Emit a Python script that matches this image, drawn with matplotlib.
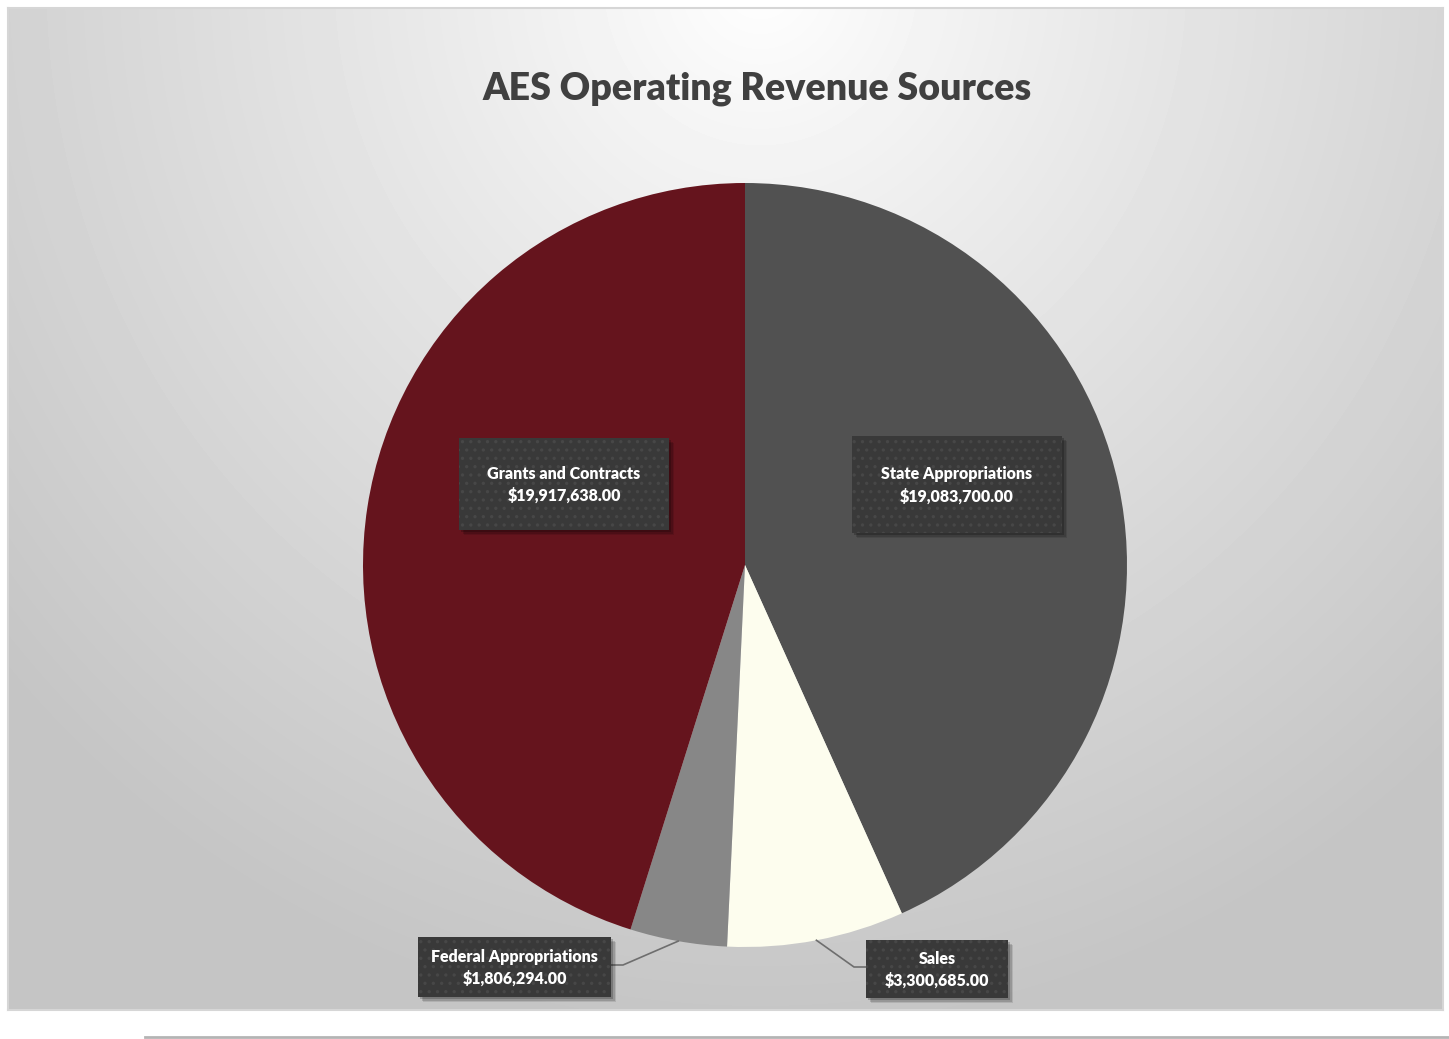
import numpy as np
import matplotlib.pyplot as plt
from matplotlib.patches import Rectangle

plt.rcParams["font.family"] = ["Lato", "DejaVu Sans"]
plt.rcParams["hatch.linewidth"] = 1.2

# Revenue sources, clockwise from 12 o'clock
sources = ["State Appropriations", "Sales", "Federal Appropriations", "Grants and Contracts"]
amounts = [19083700.00, 3300685.00, 1806294.00, 19917638.00]
colors = ["#515151", "#fdfdee", "#878787", "#65141d"]

W, H = 1449, 1039
fig = plt.figure(figsize=(W / 100, H / 100), dpi=100)
fig.patch.set_facecolor("white")


def fig_box(x0, y0, x1, y1):
    # pixel box (top-left origin) -> figure fraction [left, bottom, width, height]
    return [x0 / W, 1 - y1 / H, (x1 - x0) / W, (y1 - y0) / H]


# chart area with radial grey gradient
bg = fig.add_axes(fig_box(8, 8, 1443, 1010))
yy, xx = np.mgrid[8:1010, 8:1443]
d = np.sqrt(((xx - 760) / 1000.0) ** 2 + ((yy + 20) / 1050.0) ** 2)
shade = (255 - 58 * np.clip(d, 0, 1) ** 0.9) / 255.0
bg.imshow(shade, cmap="gray", vmin=0, vmax=1, aspect="auto", interpolation="bilinear")
bg.set_xticks([])
bg.set_yticks([])
for s in bg.spines.values():
    s.set_color("#d6d6d6")
    s.set_linewidth(1.5)

# thin rule under the chart
fig.add_artist(plt.Line2D([145 / W, 1.0], [1 - 1037 / H] * 2, color="#b4b4b4", lw=2))

fig.text(757 / W, 1 - 89 / H, "AES Operating Revenue Sources", ha="center", va="center",
         fontsize=27, fontweight="heavy", color="#404040")

# pie
cx, cy, r = 745, 565, 382
ax = fig.add_axes(fig_box(cx - r, cy - r, cx + r, cy + r))
ax.patch.set_alpha(0)
wedges, _ = ax.pie(amounts, colors=colors, startangle=90, counterclock=False, radius=1,
                   wedgeprops=dict(linewidth=0))
ax.set_xlim(-1, 1)
ax.set_ylim(-1, 1)
ax.set_aspect("auto")
ax.axis("off")

# overlay axes in pixel coordinates for the label boxes
ov = fig.add_axes([0, 0, 1, 1])
ov.set_xlim(0, W)
ov.set_ylim(H, 0)
ov.axis("off")
ov.patch.set_alpha(0)


def fmt(v):
    return "$" + format(v, ",.2f")


boxes = {
    "State Appropriations": (852, 436, 1062, 533),
    "Sales": (866, 940, 1008, 998),
    "Federal Appropriations": (418, 937, 611, 997),
    "Grants and Contracts": (459, 438, 669, 530),
}

# leader lines for the small slices
for w, name in zip(wedges, sources):
    if name not in ("Sales", "Federal Appropriations"):
        continue
    mid = np.deg2rad((w.theta1 + w.theta2) / 2)
    px, py = cx + r * np.cos(mid), cy - r * np.sin(mid)
    x0, y0, x1, y1 = boxes[name]
    ym = (y0 + y1) / 2
    if name == "Sales":
        ov.plot([px, x0 - 12, x0], [py, ym - 2, ym - 2], color="#6e6e6e", lw=1.2, zorder=2)
    else:
        ov.plot([px, x1 + 12, x1], [py, ym - 2, ym - 2], color="#6e6e6e", lw=1.2, zorder=2)

for name, amt in zip(sources, amounts):
    x0, y0, x1, y1 = boxes[name]
    for k, a in ((5, 0.10), (3.5, 0.15), (2, 0.2)):
        ov.add_patch(Rectangle((x0 + k, y0 + k), x1 - x0, y1 - y0, facecolor="black",
                               alpha=a, lw=0, zorder=3))
    ov.add_patch(Rectangle((x0, y0), x1 - x0, y1 - y0, facecolor="#393939", edgecolor="#474747",
                           hatch="..", lw=0, zorder=4))
    ov.text((x0 + x1) / 2, (y0 + y1) / 2 + 1, f"{name}\n{fmt(amt)}", ha="center", va="center",
            fontsize=11.5, fontweight="heavy", color="white", linespacing=1.45, zorder=5)

fig.savefig("out.png", dpi=100)
